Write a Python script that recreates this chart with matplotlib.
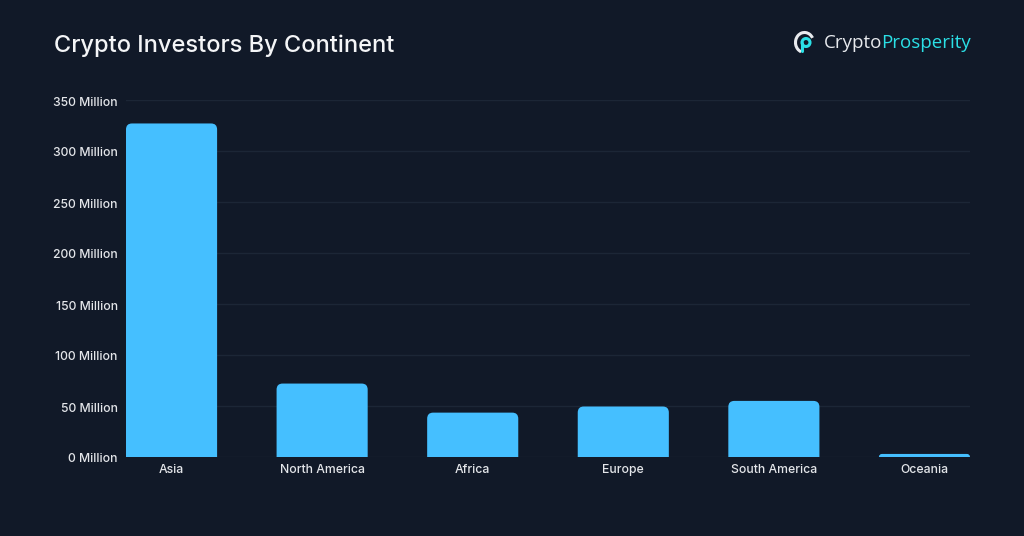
import matplotlib
matplotlib.use("Agg")
import matplotlib.pyplot as plt
from matplotlib.patches import FancyBboxPatch, Arc, Circle
from matplotlib.ticker import FuncFormatter
from matplotlib.transforms import ScaledTranslation

categories = ["Asia", "North America", "Africa", "Europe", "South America", "Oceania"]
investors_million = [327, 72, 43.5, 49.5, 55, 3]
y_ticks = [0, 50, 100, 150, 200, 250, 300, 350]

BG = "#111928"
BAR = "#45bfff"
GRID = "#1c2636"
TXT = "#e4e6ea"
plt.rcParams["font.family"] = ["Inter", "DejaVu Sans"]

fig = plt.figure(figsize=(10.24, 5.36), dpi=100, facecolor=BG)
L, R, T, B = 126, 970, 100, 457
ax = fig.add_axes([L/1024, 1-B/536, (R-L)/1024, (B-T)/536], facecolor=BG)

width = 0.605
ax.set_xlim(-width/2, len(categories)-1+width/2)
ax.set_ylim(0, 350)
px_x = (R-L)/(ax.get_xlim()[1]-ax.get_xlim()[0])
px_y = (B-T)/350
radius_px = 6
for i, v in enumerate(investors_million):
    rs = min(radius_px, max(v*px_y, 2))/px_x
    p = FancyBboxPatch((i-width/2, -20), width, v+20,
                       boxstyle=f"round,pad=0,rounding_size={rs}",
                       mutation_aspect=px_x/px_y, fc=BAR, ec="none", zorder=3)
    ax.add_patch(p)
    p.set_clip_path(ax.patch)

ax.set_yticks(y_ticks)
ax.yaxis.set_major_formatter(FuncFormatter(lambda v, _: f"{int(v)} Million"))
ax.set_xticks(range(len(categories)), categories)
ax.grid(axis="y", color=GRID, lw=1, zorder=1)
ax.grid(axis="x", visible=False)
ax.set_axisbelow(True)
for s in ax.spines.values():
    s.set_visible(False)
ax.tick_params(length=0, colors=TXT, labelsize=8.8)
ax.tick_params(axis="y", pad=6)
ax.tick_params(axis="x", pad=5)
shift = ScaledTranslation(0, -1/100, fig.dpi_scale_trans)
for lab in ax.get_xticklabels() + ax.get_yticklabels():
    lab.set_fontweight("medium")
for lab in ax.get_yticklabels():
    lab.set_transform(lab.get_transform() + shift)

fig.text(54/1024, 1-46/536, "Crypto Investors By Continent", color="#f4f5f7",
         fontsize=17, fontweight="medium", va="center", ha="left")

# logo
fig.text(824/1024, 1-43/536, "Crypto", color="#e8eaee", fontsize=13.5, va="center", ha="left",
         family="Open Sans")
fig.canvas.draw()
t1 = fig.texts[-1].get_window_extent()
fig.text((t1.x1-1)/1024, 1-43/536, "Prosperity", color="#2be0e6", fontsize=13.5, va="center", ha="left",
         family="Open Sans")

lax = fig.add_axes([790/1024, 1-58/536, 30/1024, 30/536])
lax.set_xlim(790, 820); lax.set_ylim(58, 28); lax.axis("off")
lax.add_patch(Arc((804.5, 42.5), 18, 20, theta1=110, theta2=330, color="#e8eaee", lw=2.2))
lax.add_patch(Circle((806, 42.5), 4, fc="none", ec="#2be0e6", lw=2.2))
lax.plot([802, 802], [42.5, 51], color="#2be0e6", lw=2.2, solid_capstyle="round")

fig.savefig("out.png", dpi=100, facecolor=BG)
